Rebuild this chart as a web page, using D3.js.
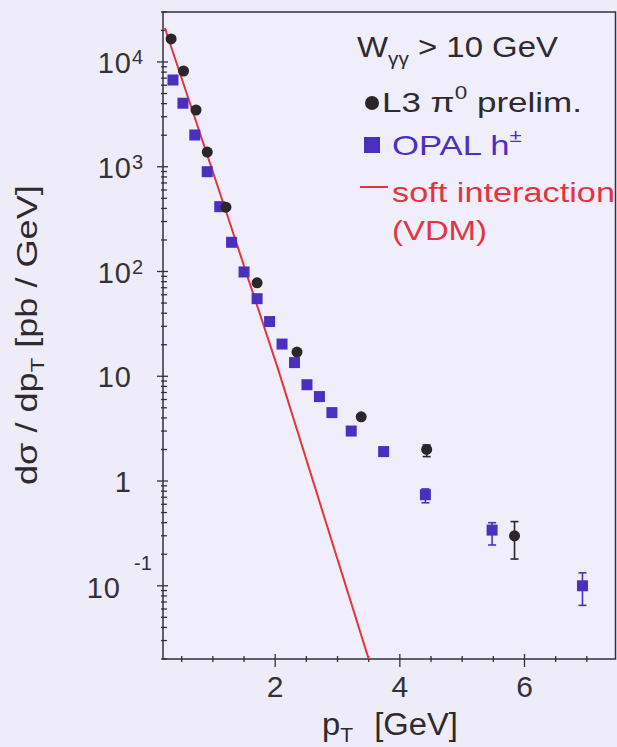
<!DOCTYPE html>
<html>
<head>
<meta charset="utf-8">
<script src="https://cdn.jsdelivr.net/npm/d3@7"></script>
<style>
  body { margin: 0; background: #efecf9; }
  svg { display: block; font-family: 'Liberation Sans', Arial, sans-serif; }
</style>
</head>
<body>
<div id="app"></div>
<script>
// L3 pi0 (preliminary)
const l3Pt = [0.33, 0.53, 0.73, 0.91, 1.21, 1.71, 2.35, 3.38, 4.43, 5.84]
const l3Val = [16600, 8200, 3480, 1380, 411, 78, 17, 4.1, 2.0, 0.30]
const l3Lo = [null, null, null, null, null, null, null, null, 1.71, 0.18]
const l3Hi = [null, null, null, null, null, null, null, null, 2.21, 0.41]

// OPAL h+-
const opalPt = [0.36, 0.52, 0.71, 0.91, 1.11, 1.30, 1.50, 1.71, 1.91, 2.11, 2.31, 2.51, 2.71, 2.91, 3.22, 3.74, 4.41, 5.48, 6.93]
const opalVal = [6730, 4040, 2010, 897, 416, 190, 99, 55, 33.3, 20.3, 13.5, 8.3, 6.4, 4.5, 3.0, 1.91, 0.74, 0.34, 0.10]
const opalLo = [null, null, null, null, null, null, null, null, null, null, null, null, null, null, null, null, 0.62, 0.245, 0.065]
const opalHi = [null, null, null, null, null, null, null, null, null, null, null, null, null, null, null, null, 0.84, 0.40, 0.133]

// soft interaction (VDM) curve
const vdmPt = [0.23, 1.22, 2.05, 3.50]
const vdmVal = [21100, 362, 11.5, 0.02]

const xDomain = [0.2, 7.46]
const yDomain = [0.02, 3e4]
const xTicks = [2, 4, 6]
const xTickLabels = ['2', '4', '6']
const yTicks = [0.1, 1, 10, 100, 1000, 10000]
const yTickBase = ['10', '1', '10', '10', '10', '10']
const yTickExp = ['-1', '', '', '2', '3', '4']

const colors = {
  l3: '#2b2629',
  opal: '#4b30c0',
  vdm: '#e3343f',
  axis: '#333038'
}

const width = 617
const height = 747
const plot = { left: 163, right: 615.5, top: 12, bottom: 659 }

const svg = d3.select('#app')
  .append('svg')
  .attr('width', width)
  .attr('height', height)

const x = d3.scaleLinear().domain(xDomain).range([plot.left, plot.right])
const y = d3.scaleLog().domain(yDomain).range([plot.bottom, plot.top])

svg.append('defs').append('clipPath')
  .attr('id', 'clip')
  .append('rect')
  .attr('x', plot.left)
  .attr('y', plot.top)
  .attr('width', plot.right - plot.left)
  .attr('height', plot.bottom - plot.top)

// frame
svg.append('rect')
  .attr('x', plot.left)
  .attr('y', plot.top)
  .attr('width', plot.right - plot.left)
  .attr('height', plot.bottom - plot.top)
  .attr('fill', '#f1eefb')
  .attr('stroke', colors.axis)
  .attr('stroke-width', 1.5)

// y ticks
const yMinor = y.ticks().filter(v => v >= yDomain[0] && v <= yDomain[1])
svg.append('g')
  .selectAll('line')
  .data(yMinor)
  .join('line')
  .attr('x1', d => yTicks.includes(d) ? plot.left - 6 : plot.left - 2)
  .attr('x2', d => yTicks.includes(d) ? plot.left + 5 : plot.left + 4)
  .attr('y1', d => y(d))
  .attr('y2', d => y(d))
  .attr('stroke', colors.axis)
  .attr('stroke-width', 1.3)

// x ticks
const xMinor = d3.range(0.5, 7.5, 0.5)
svg.append('g')
  .selectAll('line')
  .data(xMinor)
  .join('line')
  .attr('x1', d => x(d))
  .attr('x2', d => x(d))
  .attr('y1', d => xTicks.includes(d) ? plot.bottom - 5 : plot.bottom - 3)
  .attr('y2', d => xTicks.includes(d) ? plot.bottom + 8 : plot.bottom + 3)
  .attr('stroke', colors.axis)
  .attr('stroke-width', 1.3)

svg.append('g')
  .selectAll('text')
  .data(xTicks)
  .join('text')
  .attr('x', d => x(d))
  .attr('y', plot.bottom + 38)
  .attr('text-anchor', 'middle')
  .attr('font-size', 30)
  .attr('fill', colors.axis)
  .text((d, i) => xTickLabels[i])

const yLab = svg.append('g')
  .selectAll('g')
  .data(yTicks)
  .join('g')
  .attr('transform', d => `translate(0,${y(d)})`)

yLab.append('text')
  .attr('x', (d, i) => yTickExp[i].startsWith('-') ? 121 : 132)
  .attr('y', (d, i) => yTickExp[i].startsWith('-') ? 12 : 11)
  .attr('text-anchor', 'end')
  .attr('font-size', 29)
  .attr('letter-spacing', 1)
  .attr('fill', colors.axis)
  .text((d, i) => yTickBase[i])

yLab.append('text')
  .attr('x', (d, i) => yTickExp[i].startsWith('-') ? 134 : 132)
  .attr('y', (d, i) => yTickExp[i].startsWith('-') ? -16 : 2)
  .attr('font-size', 20)
  .attr('fill', colors.axis)
  .text((d, i) => yTickExp[i])

// VDM curve
const line = d3.line()
  .x(d => x(d[0]))
  .y(d => y(d[1]))

svg.append('path')
  .datum(vdmPt.map((p, i) => [p, vdmVal[i]]))
  .attr('clip-path', 'url(#clip)')
  .attr('d', line)
  .attr('fill', 'none')
  .attr('stroke', colors.vdm)
  .attr('stroke-width', 2)

// error bars
function errorBars(pts, lo, hi, color) {
  const data = pts.map((p, i) => ({ p, lo: lo[i], hi: hi[i] })).filter(d => d.lo != null)
  const g = svg.append('g').attr('stroke', color).attr('stroke-width', 1.6)
  g.selectAll('.bar')
    .data(data)
    .join('line')
    .attr('x1', d => x(d.p))
    .attr('x2', d => x(d.p))
    .attr('y1', d => y(d.lo))
    .attr('y2', d => y(d.hi))
  g.selectAll('.capLo')
    .data(data)
    .join('line')
    .attr('x1', d => x(d.p) - 4)
    .attr('x2', d => x(d.p) + 4)
    .attr('y1', d => y(d.lo))
    .attr('y2', d => y(d.lo))
  g.selectAll('.capHi')
    .data(data)
    .join('line')
    .attr('x1', d => x(d.p) - 4)
    .attr('x2', d => x(d.p) + 4)
    .attr('y1', d => y(d.hi))
    .attr('y2', d => y(d.hi))
}

errorBars(opalPt, opalLo, opalHi, colors.opal)
errorBars(l3Pt, l3Lo, l3Hi, colors.l3)

svg.append('g')
  .selectAll('rect')
  .data(opalPt.map((p, i) => [p, opalVal[i]]))
  .join('rect')
  .attr('x', d => x(d[0]) - 5.5)
  .attr('y', d => y(d[1]) - 5.5)
  .attr('width', 11)
  .attr('height', 11)
  .attr('fill', colors.opal)

svg.append('g')
  .selectAll('circle')
  .data(l3Pt.map((p, i) => [p, l3Val[i]]))
  .join('circle')
  .attr('cx', d => x(d[0]))
  .attr('cy', d => y(d[1]))
  .attr('r', 5.5)
  .attr('fill', colors.l3)

// text helper: stretch horizontally to a target width
function fit(sel, w) {
  const bw = sel.select('text').node().getBBox().width
  sel.select('text').attr('transform', `scale(${w / bw},1)`)
}

// title
const title = svg.append('g').attr('transform', 'translate(357,57)')
const tt = title.append('text').attr('font-size', 30).attr('fill', '#2e2a30')
tt.append('tspan').text('W')
tt.append('tspan').attr('font-size', 19).attr('dy', 8).text('γγ')
tt.append('tspan').attr('dy', -8).text(' > 10 GeV')
fit(title, 201)

// legend
const leg = svg.append('g')

leg.append('circle')
  .attr('cx', 372).attr('cy', 103).attr('r', 7)
  .attr('fill', colors.l3)
const l1 = leg.append('g').attr('transform', 'translate(382,112)')
const l1t = l1.append('text').attr('font-size', 28).attr('fill', '#2e2a30')
l1t.append('tspan').text('L3 π')
l1t.append('tspan').attr('font-size', 18).attr('dy', -13).text('0')
l1t.append('tspan').attr('dy', 13).text(' prelim.')
fit(l1, 200)

leg.append('rect')
  .attr('x', 364).attr('y', 137).attr('width', 16).attr('height', 16)
  .attr('fill', colors.opal)
const l2 = leg.append('g').attr('transform', 'translate(392,155)')
const l2t = l2.append('text').attr('font-size', 28).attr('fill', colors.opal)
l2t.append('tspan').text('OPAL h')
l2t.append('tspan').attr('font-size', 18).attr('dy', -13).text('±')
fit(l2, 130)

leg.append('line')
  .attr('x1', 360).attr('x2', 388).attr('y1', 187).attr('y2', 187)
  .attr('stroke', colors.vdm).attr('stroke-width', 2)
const l3 = leg.append('g').attr('transform', 'translate(392,202)')
l3.append('text').attr('font-size', 28).attr('fill', colors.vdm).text('soft interaction')
fit(l3, 223)
const l4 = leg.append('g').attr('transform', 'translate(392,240)')
l4.append('text').attr('font-size', 28).attr('fill', colors.vdm).text('(VDM)')
fit(l4, 95)

// axis titles
const xt = svg.append('g').attr('transform', 'translate(322,735)')
const xtt = xt.append('text').attr('font-size', 31).attr('fill', '#2e2a30')
xtt.append('tspan').text('p')
xtt.append('tspan').attr('font-size', 20).attr('dy', 7).text('T')
xtt.append('tspan').attr('dy', -7).attr('dx', 20).text('[GeV]')
fit(xt, 136)

const yt = svg.append('g').attr('transform', 'translate(37,485) rotate(-90)')
const ytt = yt.append('text').attr('font-size', 29).attr('fill', '#2e2a30')
ytt.append('tspan').text('dσ / dp')
ytt.append('tspan').attr('font-size', 19).attr('dy', 7).text('T')
ytt.append('tspan').attr('dy', -7).text(' [pb / GeV]')
fit(yt, 300)
</script>
</body>
</html>
